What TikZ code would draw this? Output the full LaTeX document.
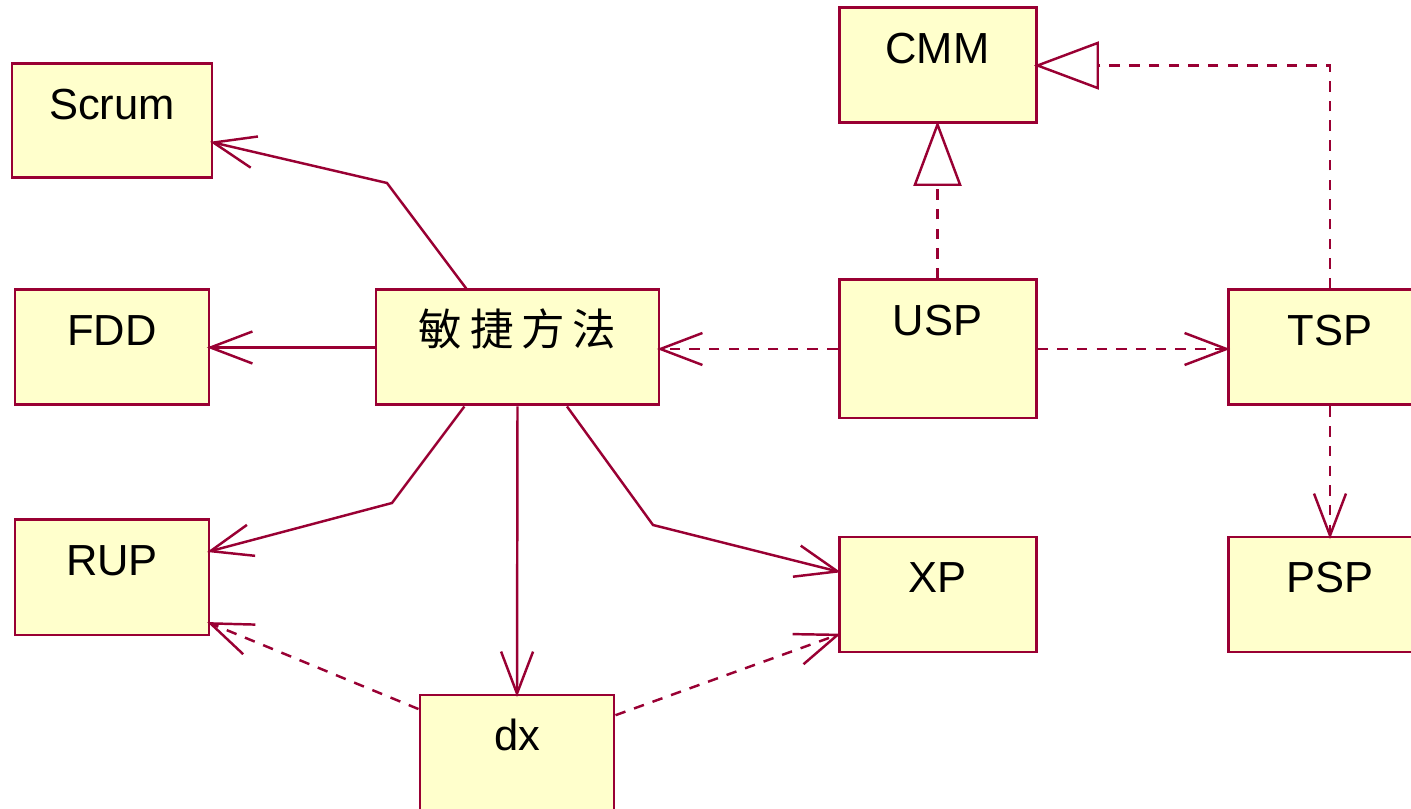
\documentclass[tikz,border=0pt]{standalone}
\usepackage{fontspec}
\setmainfont{Liberation Sans}
\newfontfamily\cjk[LetterSpace=18]{Noto Sans CJK SC}
\usepackage{xcolor}
\usepackage{tikz}
\usetikzlibrary{arrows.meta}
\definecolor{umlline}{HTML}{990033}
\definecolor{umlfill}{HTML}{FFFFCC}

\begin{document}
\begin{tikzpicture}[%
  cls/.style={draw=umlline, line width=0.85pt, rectangle, fill=umlfill, minimum width=1.97cm, minimum height=1.15cm, inner sep=0pt, label={[anchor=base, yshift=-0.57cm, font=\fontsize{0.435cm}{0.52cm}\selectfont]north:#1}},%
  dep/.style={umlline, line width=0.7pt, shorten >=-1pt, -{Straight Barb[length=4.2mm, width=3.2mm]}},%
  ddep/.style={dep, dash pattern=on 3pt off 2.6pt},%
  real/.style={umlline, line width=0.7pt, shorten >=-1pt, dash pattern=on 3pt off 2.6pt, -{Triangle[open, length=6.5mm, width=4.8mm]}}]%
\useasboundingbox (0,0) rectangle (14.11,-8.09);%
\node[cls=Scrum, minimum width=2.0cm, minimum height=1.14cm] (scrum) at (1.12,-1.21) {};%
\node[cls=FDD, minimum width=1.94cm] (fdd) at (1.12,-3.475) {};%
\node[cls=RUP, minimum width=1.94cm] (rup) at (1.12,-5.775) {};%
\node[cls={\cjk 敏捷方法}, minimum width=2.83cm] (agile) at (5.175,-3.475) {};%
\node[cls=dx, minimum width=1.94cm, minimum height=1.2cm] (dx) at (5.17,-7.55) {};%
\node[cls=XP] (xp) at (9.375,-5.945) {};%
\node[cls=USP, minimum height=1.38cm] (usp) at (9.375,-3.49) {};%
\node[cls=CMM] (cmm) at (9.375,-0.655) {};%
\node[cls=TSP, minimum width=2.04cm] (tsp) at (13.30,-3.475) {};%
\node[cls=PSP, minimum width=2.04cm] (psp) at (13.30,-5.945) {};%
\coordinate (scrumbend) at (3.87,-1.83);%
\coordinate (rupbend) at (3.92,-5.03);%
\coordinate (xpbend) at (6.53,-5.25);%
\draw[dep] (agile.131) -- (scrumbend) -- (scrum.-12);%
\draw[dep] (agile.west) -- (fdd.east);%
\draw[dep] (agile.228) -- (rupbend) -- (rup.15);%
\draw[dep] (agile.south) -- (dx.north);%
\draw[dep] (agile.-50) -- (xpbend) -- (xp.167);%
\draw[ddep] (dx.155) -- (rup.-25);%
\draw[ddep] (dx.22) -- (xp.202);%
\draw[ddep] (usp.west) -- (agile.east |- usp.west);%
\draw[ddep] (usp.east) -- (tsp.west |- usp.east);%
\draw[ddep] (tsp.south) -- (psp.north);%
\draw[real] (usp.north) -- (cmm.south);%
\draw[real] (tsp.north) |- (cmm.east);%
\end{tikzpicture}
\end{document}
